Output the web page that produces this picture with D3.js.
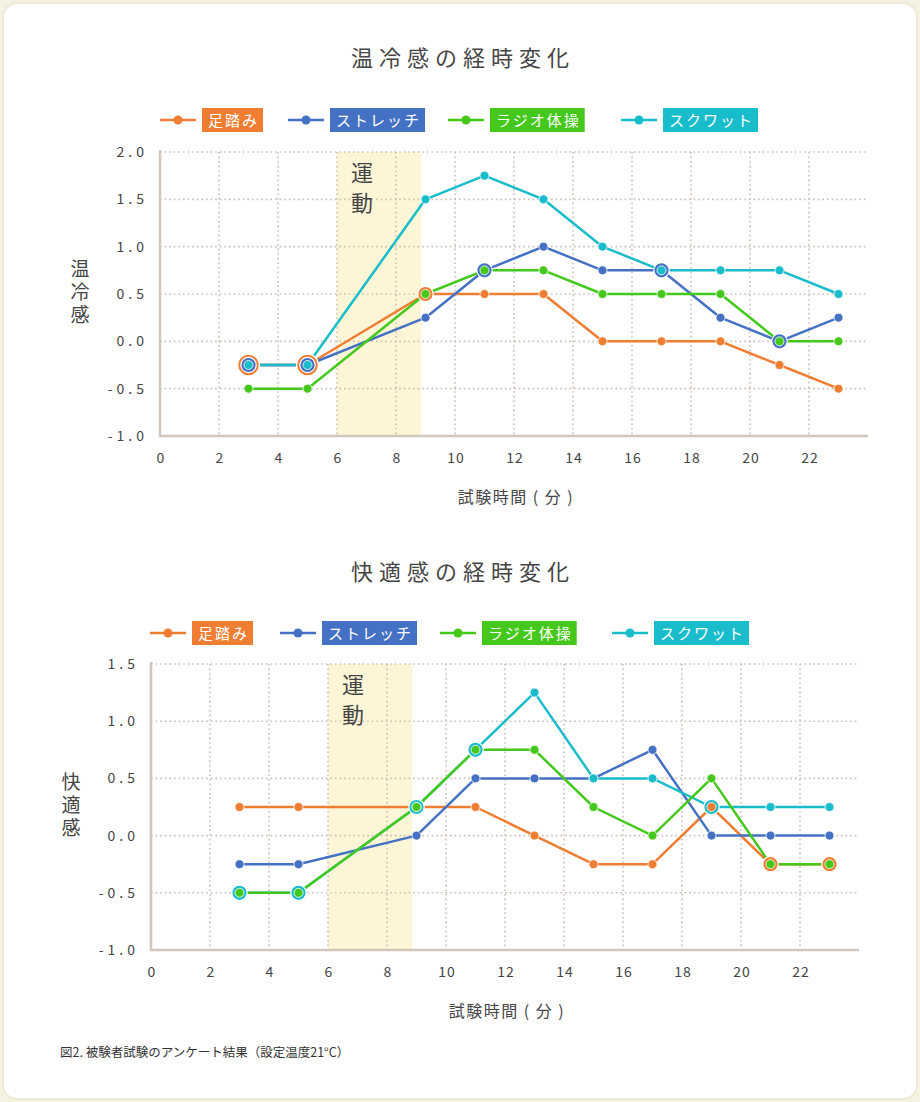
<!DOCTYPE html>
<html><head><meta charset="utf-8">
<script src="https://cdn.jsdelivr.net/npm/d3@7"></script>
<style>
html,body{margin:0;padding:0;background:#f6f2e3;}
svg{display:block;}
text{font-family:"Noto Sans CJK JP","Noto Sans",sans-serif;}
</style></head>
<body>
<svg id="c" width="920" height="1102"></svg>
<script>
// ---------- data ----------
const times = [3, 5, 9, 11, 13, 15, 17, 19, 21, 23];
const seriesNames = ["足踏み", "ストレッチ", "ラジオ体操", "スクワット"];
const seriesColors = ["#ef7d32", "#4571c4", "#45c81c", "#19bccb"];

// 温冷感
const thermalAshibumi = [-0.25, -0.25, 0.5, 0.5, 0.5, 0, 0, 0, -0.25, -0.5];
const thermalStretch  = [-0.25, -0.25, 0.25, 0.75, 1.0, 0.75, 0.75, 0.25, 0, 0.25];
const thermalRadio    = [-0.5, -0.5, 0.5, 0.75, 0.75, 0.5, 0.5, 0.5, 0, 0];
const thermalSquat    = [-0.25, -0.25, 1.5, 1.75, 1.5, 1.0, 0.75, 0.75, 0.75, 0.5];

// 快適感
const comfortAshibumi = [0.25, 0.25, 0.25, 0.25, 0, -0.25, -0.25, 0.25, -0.25, -0.25];
const comfortStretch  = [-0.25, -0.25, 0, 0.5, 0.5, 0.5, 0.75, 0, 0, 0];
const comfortRadio    = [-0.5, -0.5, 0.25, 0.75, 0.75, 0.25, 0, 0.5, -0.25, -0.25];
const comfortSquat    = [-0.5, -0.5, 0.25, 0.75, 1.25, 0.5, 0.5, 0.25, 0.25, 0.25];

// highlighted (overlapping) markers: [series, time]
const thermalRings = [["足踏み",3],["ストレッチ",3],["足踏み",5],["ストレッチ",5],["足踏み",9],["ストレッチ",11],["ストレッチ",17],["ストレッチ",21]];
const comfortRings = [["スクワット",3],["スクワット",5],["スクワット",9],["スクワット",11],["スクワット",19],["足踏み",21],["足踏み",23]];

const xTicks = [0, 2, 4, 6, 8, 10, 12, 14, 16, 18, 20, 22];
const xDomain = [0, 24];
const thermalYTicks = [-1, -0.5, 0, 0.5, 1, 1.5, 2];
const comfortYTicks = [-1, -0.5, 0, 0.5, 1, 1.5];
const exercisePeriod = [6, 8.85];

const thermalTitle = "温冷感の経時変化";
const comfortTitle = "快適感の経時変化";
const thermalYLabel = "温冷感";
const comfortYLabel = "快適感";
const xLabel = "試験時間 ( 分 )";
const bandLabel = "運動";
const caption = "図2. 被験者試験のアンケート結果（設定温度21°C）";

// ---------- drawing ----------
const svg = d3.select("#c");
svg.append("rect").attr("x", 3).attr("y", 3).attr("width", 914).attr("height", 1096)
  .attr("rx", 14).attr("fill", "#ffffff").attr("stroke", "#efe8d3").attr("stroke-width", 2);

const ink = "#454545";
const gridColor = "#cbbfb6";
const axisColor = "#d0c6bd";
const fmt = v => d3.format(".1f")(v).replace("−", "-");

function drawChart(cfg) {
  const g = svg.append("g");
  const x = d3.scaleLinear().domain(xDomain).range([cfg.left, cfg.right]);
  const y = d3.scaleLinear().domain(cfg.yDomain).range([cfg.bottom, cfg.top]);

  // title
  g.append("text").attr("x", 460 + 3).attr("y", cfg.titleY).attr("text-anchor", "middle")
    .attr("font-size", 22).attr("font-weight", 400).attr("letter-spacing", 6)
    .attr("fill", ink).text(cfg.title);

  // legend
  const series = seriesNames.map((n, i) => ({name: n, color: seriesColors[i], values: cfg.values[i]}));
  series.forEach((s, i) => {
    const lx = cfg.legendX[i], ly = cfg.legendY;
    g.append("line").attr("x1", lx).attr("x2", lx + 36).attr("y1", ly).attr("y2", ly)
      .attr("stroke", s.color).attr("stroke-width", 2.5);
    g.append("circle").attr("cx", lx + 18).attr("cy", ly).attr("r", 4.5).attr("fill", s.color);
    const t = g.append("text").attr("x", lx + 48).attr("y", ly + 5.5)
      .attr("font-size", 15).attr("letter-spacing", 2).attr("fill", "#fff").text(s.name);
    const w = t.node().getComputedTextLength();
    g.insert("rect", "text:last-of-type").attr("x", lx + 42).attr("y", ly - 12)
      .attr("width", w + 10).attr("height", 24).attr("fill", s.color);
    t.raise();
  });

  // exercise band
  g.append("rect").attr("x", x(exercisePeriod[0])).attr("y", cfg.top)
    .attr("width", x(exercisePeriod[1]) - x(exercisePeriod[0])).attr("height", cfg.bottom - cfg.top)
    .attr("fill", "#fdf6d6");

  // grid
  const gy = cfg.yTicks.filter(v => v !== cfg.yDomain[0]);
  g.append("g").selectAll("line").data(gy).join("line")
    .attr("x1", cfg.left).attr("x2", cfg.right).attr("y1", d => y(d)).attr("y2", d => y(d))
    .attr("stroke", gridColor).attr("stroke-width", 1.6).attr("stroke-dasharray", "1.6 3");
  g.append("g").selectAll("line").data(xTicks.filter(v => v > 0)).join("line")
    .attr("x1", d => x(d)).attr("x2", d => x(d)).attr("y1", cfg.top).attr("y2", cfg.bottom)
    .attr("stroke", gridColor).attr("stroke-width", 1.6).attr("stroke-dasharray", "1.6 3");

  // axes
  g.append("line").attr("x1", cfg.left).attr("x2", cfg.left).attr("y1", cfg.top - 2).attr("y2", cfg.bottom + 1)
    .attr("stroke", axisColor).attr("stroke-width", 2.5);
  g.append("line").attr("x1", cfg.left - 1).attr("x2", cfg.right).attr("y1", cfg.bottom).attr("y2", cfg.bottom)
    .attr("stroke", axisColor).attr("stroke-width", 2.5);

  // tick labels
  g.append("g").selectAll("text").data(cfg.yTicks).join("text")
    .attr("x", cfg.left - 12).attr("y", d => y(d) + 5).attr("text-anchor", "end")
    .attr("font-size", 14).attr("letter-spacing", 4).attr("fill", ink)
    .text(d => fmt(d));
  g.append("g").selectAll("text").data(xTicks).join("text")
    .attr("x", d => x(d) + 1).attr("y", cfg.bottom + 27).attr("text-anchor", "middle")
    .attr("font-size", 14).attr("letter-spacing", 1).attr("fill", ink).text(d => d);

  // axis titles (vertical text)
  g.append("text").attr("x", cfg.yLabelX).attr("y", cfg.yLabelY)
    .attr("font-size", 19).attr("font-weight", 400).attr("fill", ink)
    .attr("text-anchor", "middle").style("writing-mode", "vertical-rl")
    .attr("letter-spacing", 4).text(cfg.yLabel);
  g.append("text").attr("x", cfg.xLabelX).attr("y", cfg.bottom + 67).attr("text-anchor", "middle")
    .attr("font-size", 16).attr("font-weight", 400).attr("letter-spacing", 1.5).attr("fill", ink).text(xLabel);

  // band label (vertical text)
  g.append("text").attr("x", x(exercisePeriod[0]) + 25).attr("y", cfg.top + 40)
    .attr("font-size", 22).attr("font-weight", 400).attr("fill", ink)
    .attr("text-anchor", "middle").style("writing-mode", "vertical-rl")
    .attr("letter-spacing", 8).text(bandLabel);

  // lines
  const line = d3.line().x(d => x(d.t)).y(d => y(d.v));
  cfg.lineOrder.forEach(i => {
    const s = series[i];
    g.append("path").datum(times.map((t, k) => ({t, v: s.values[k]})))
      .attr("d", line).attr("fill", "none").attr("stroke", s.color).attr("stroke-width", 2.5)
      .attr("stroke-linejoin", "round");
  });

  // points
  const ringSet = new Set(cfg.rings.map(r => r[0] + "|" + r[1]));
  const pts = [];
  series.forEach((s, i) => {
    times.forEach((t, k) => {
      const v = s.values[k];
      let level = 0;
      if (ringSet.has(s.name + "|" + t)) {
        level = 1;
        series.forEach((o, j) => {
          if (j > i && o.values[k] === v && ringSet.has(o.name + "|" + t)) level++;
        });
      }
      pts.push({t, v, color: s.color, level, order: cfg.lineOrder.indexOf(i)});
    });
  });
  pts.sort((a, b) => (b.level - a.level) || (a.order - b.order));
  g.append("g").selectAll("circle").data(pts).join("circle")
    .attr("cx", d => x(d.t)).attr("cy", d => y(d.v))
    .attr("r", d => 4.5 + d.level * 3.2)
    .attr("fill", d => d.color)
    .attr("stroke", "#fff").attr("stroke-width", d => d.level ? 1.2 : 0.8);
}

drawChart({
  title: thermalTitle, titleY: 66,
  legendX: [160, 288, 448, 621], legendY: 120,
  left: 160, right: 868, top: 152, bottom: 436,
  yDomain: [-1, 2], yTicks: thermalYTicks,
  values: [thermalAshibumi, thermalStretch, thermalRadio, thermalSquat],
  rings: thermalRings, lineOrder: [0, 1, 2, 3],
  yLabel: thermalYLabel, yLabelX: 80, yLabelY: 294, xLabelX: 516
});

drawChart({
  title: comfortTitle, titleY: 580,
  legendX: [150, 280, 440, 612], legendY: 633,
  left: 151, right: 859, top: 664, bottom: 950,
  yDomain: [-1, 1.5], yTicks: comfortYTicks,
  values: [comfortAshibumi, comfortStretch, comfortRadio, comfortSquat],
  rings: comfortRings, lineOrder: [0, 1, 3, 2],
  yLabel: comfortYLabel, yLabelX: 71, yLabelY: 807, xLabelX: 507
});

svg.append("text").attr("x", 60).attr("y", 1057).attr("font-size", 12.5)
  .attr("fill", "#333").attr("font-family", "'Noto Sans CJK JP',sans-serif").text(caption);
</script>
</body></html>
